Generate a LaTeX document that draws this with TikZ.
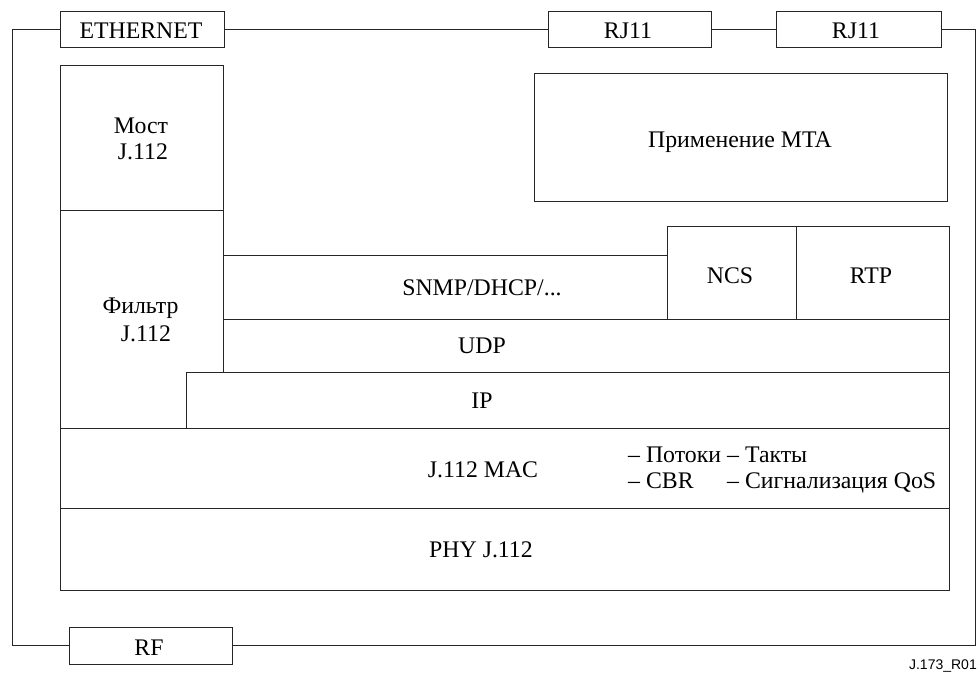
\documentclass[tikz,border=0pt]{standalone}
\usepackage{fontspec}
\setmainfont{Liberation Serif}
\newfontfamily\figsans{Liberation Sans}
\newcommand\mybox[5]{\node[box, minimum width=#4pt, minimum height=#5pt] (#1) at (#2,#3) {};}
\begin{document}
\begin{tikzpicture}[x=1pt,y=-1pt,
  box/.style={draw=black!85, line width=1pt, fill=white, inner sep=0pt, outer sep=0pt, anchor=north west},
  lbl/.style={font=\fontsize{23.8}{27}\selectfont, inner sep=0pt, anchor=base},
  lbll/.style={font=\fontsize{23.8}{27}\selectfont, inner sep=0pt, anchor=base west},
  wire/.style={draw=black!85, line width=1pt}]
\useasboundingbox (0,0) rectangle (980,673);

% stack boxes
\mybox{bridge}{60}{65}{163}{145}
\draw[wire] (60,210) -- (223,210) -- (223,372) -- (186,372) -- (186,428) -- (60,428) -- cycle;
\coordinate (filter) at (141,325);
\mybox{snmp}{223}{255}{444}{64}
\mybox{ncs}{667}{226}{129}{93}
\mybox{rtp}{796}{226}{153}{93}
\mybox{udp}{223}{319}{726}{53}
\mybox{ip}{186}{372}{763}{56}
\mybox{mac}{60}{428}{889}{80}
\mybox{phy}{60}{508}{889}{82}
\mybox{mta}{534}{73}{413}{128}

% connector boxes
\mybox{eth}{60}{11}{164}{36}
\mybox{rjA}{548}{11}{163}{36}
\mybox{rjB}{776}{11}{165}{36}
\mybox{rf}{69}{627}{163}{37}

% frame corners
\coordinate (tl) at (12,29);
\coordinate (bl) at (12,645.5);
\coordinate (tr) at (975,29);
\coordinate (br) at (975,645.5);
\draw[wire] (eth.west) -- (tl) -- (bl) -- (rf.west);
\draw[wire] (rf.east) -- (br) -- (tr) -- (rjB.east);
\draw[wire] (eth.east) -- (rjA.west);
\draw[wire] (rjA.east) -- (rjB.west);

% labels
\node[lbl] (tEth) at (141,38) {ETHERNET};
\node[lbl] (tRjA) at (628,38) {RJ11};
\node[lbl] (tRjB) at (856,38) {RJ11};
\node[lbl] (tRf) at (149,655) {RF};
\node[lbl] (tBr1) at (141,133) {Мост};
\node[lbl] (tBr2) at (143,159) {J.112};
\node[lbl] (tFi1) at (140.5,313) {Фильтр};
\node[lbl] (tFi2) at (146,341) {J.112};
\node[lbl] (tMta) at (740,147) {Применение MTA};
\node[lbl] (tSnmp) at (482,295) {SNMP/DHCP/...};
\node[lbl] (tNcs) at (730,283) {NCS};
\node[lbl] (tRtp) at (871,283) {RTP};
\node[lbl] (tUdp) at (482,353) {UDP};
\node[lbl] (tIp) at (482,408) {IP};
\node[lbl] (tMac) at (483,477) {J.112 MAC};
\node[lbl] (tPhy) at (481,557) {PHY J.112};
\node[lbll] (tL1) at (628,462) {– Потоки};
\node[lbll] (tL2) at (628,488) {– CBR};
\node[lbll] (tL3) at (727,462) {– Такты};
\node[lbll] (tL4) at (727,488) {– Сигнализация QoS};
\node[font=\figsans\fontsize{14}{16}\selectfont, inner sep=0pt, anchor=base east] (tId) at (977,669) {J.173\_R01};
\end{tikzpicture}
\end{document}
